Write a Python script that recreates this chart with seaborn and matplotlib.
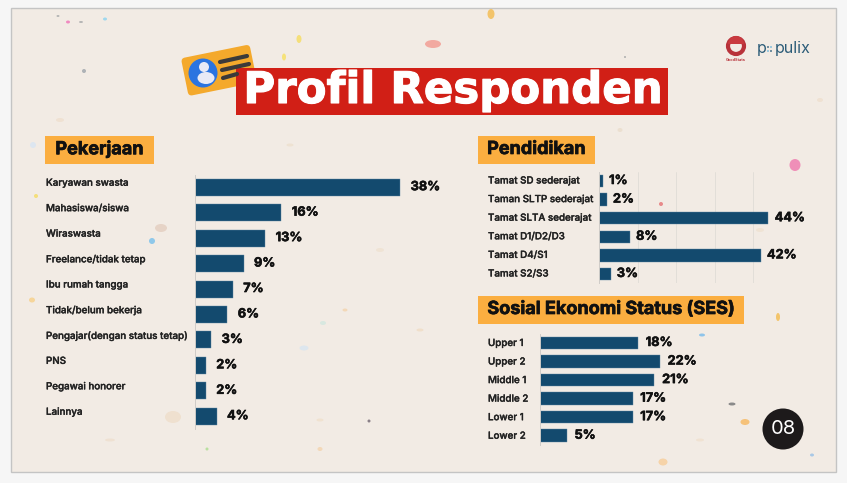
import matplotlib
matplotlib.use("Agg")
import matplotlib.pyplot as plt
from matplotlib.patches import Rectangle, Circle, FancyBboxPatch, Ellipse, Wedge
import matplotlib.patheffects as pe
import matplotlib.transforms as mtrans
import pandas as pd
import seaborn as sns

W, H = 847, 483

pekerjaan = ["Karyawan swasta", "Mahasiswa/siswa", "Wiraswasta", "Freelance/tidak tetap",
             "Ibu rumah tangga", "Tidak/belum bekerja", "Pengajar(dengan status tetap)",
             "PNS", "Pegawai honorer", "Lainnya"]
pekerjaan_pct = [38, 16, 13, 9, 7, 6, 3, 2, 2, 4]

pendidikan = ["Tamat SD sederajat", "Taman SLTP sederajat", "Tamat SLTA sederajat",
              "Tamat D1/D2/D3", "Tamat D4/S1", "Tamat S2/S3"]
pendidikan_pct = [1, 2, 44, 8, 42, 3]

ses = ["Upper 1", "Upper 2", "Middle 1", "Middle 2", "Lower 1", "Lower 2"]
ses_pct = [18, 22, 21, 17, 17, 5]

BAR = "#134a6e"
ORANGE = "#fbae40"
RED = "#d11f16"
PAPER = "#f2ebe4"
FONT = "Inter"

sns.set_theme(style="white")
plt.rcParams["font.family"] = [FONT, "DejaVu Sans"]


def heavy(width):
    return [pe.withStroke(linewidth=width, foreground="#111111")]


fig = plt.figure(figsize=(W / 100, H / 100), dpi=100, facecolor="#f6f6f6")

# whole figure in pixel coords for the decoration
bg = fig.add_axes([0, 0, 1, 1], zorder=0)
bg.set_xlim(0, W)
bg.set_ylim(H, 0)
bg.axis("off")
bg.add_patch(Rectangle((11, 8), 825, 464, fc=PAPER, ec="#c4c4c4", lw=1))

# paper flecks, placed by eye
flecks = [(299, 39, 5, 8, "#f5df7a"), (433, 44, 16, 8, "#f2a9a0"), (491, 14, 7, 10, "#f3c46b"),
          (795, 165, 11, 12, "#ef8fb8"), (702, 335, 6, 3, "#8fc4ea"), (745, 422, 9, 6, "#f6c27a"),
          (152, 241, 6, 6, "#8fc8ea"), (161, 228, 12, 8, "#e6d3c6"), (661, 204, 4, 4, "#e88a8a"),
          (68, 22, 4, 3, "#f08ac0"), (105, 19, 4, 3, "#9fd8ee"), (58, 16, 3, 2, "#b5b5b5"),
          (81, 22, 4, 2, "#b5b5b5"), (84, 71, 4, 4, "#aeb2b6"), (369, 421, 3, 3, "#8a8088"),
          (173, 417, 16, 12, "#efe0cf"), (33, 145, 6, 6, "#dde6f0"), (36, 196, 4, 4, "#f5df7a"),
          (663, 462, 9, 7, "#f6d3a8"), (778, 317, 4, 8, "#f3c46b"), (732, 404, 7, 3, "#8a8a8a"),
          (284, 57, 4, 7, "#f6e27a"), (545, 96, 3, 7, "#c9b8dc"), (625, 57, 2, 2, "#b0b0b0"),
          (32, 300, 6, 5, "#f6d59a"), (812, 455, 4, 3, "#a9c8e6"), (304, 348, 9, 5, "#dde6ee"),
          (323, 323, 6, 4, "#d8e8e0"), (345, 310, 5, 3, "#f3d8b8"), (320, 449, 5, 4, "#f3d8b8"),
          (207, 449, 3, 3, "#b9e0a0"), (320, 420, 7, 3, "#f0e2d0"), (548, 420, 6, 4, "#ebe0d2"),
          (620, 130, 5, 4, "#ebdfd0"), (290, 145, 7, 3, "#eee2d2"), (380, 250, 8, 4, "#efe3d4"),
          (420, 330, 7, 3, "#f0dfca"), (760, 230, 8, 4, "#efe3d4"), (700, 440, 8, 3, "#f0e2d2"),
          (110, 440, 10, 3, "#efe1d2"), (60, 120, 8, 4, "#efe1d2"), (820, 100, 6, 4, "#efe1d2")]
for x, y, w, h, c in flecks:
    bg.add_patch(Ellipse((x, y), w, h, fc=c, ec="none"))

# id card icon
card = FancyBboxPatch((184, 51), 70, 38.5, boxstyle="round,pad=0,rounding_size=4", fc="#f4a92c", ec="none",
                      transform=mtrans.Affine2D().rotate_deg_around(219, 70, -11.5) + bg.transData)
bg.add_patch(card)
bg.add_patch(Circle((203, 73), 14.5, fc="#2b74e0", ec="none"))
bg.add_patch(Circle((204, 67), 5, fc="#e8eaf6", ec="none"))
bg.add_patch(Ellipse((206, 78), 17, 12, fc="#e8eaf6", ec="none"))
for x0, y0, x1, y1 in [(220, 62, 247, 56), (222, 70, 249, 64), (223, 78, 237, 74)]:
    bg.plot([x0, x1], [y0, y1], color="#3b3a3a", lw=3, solid_capstyle="round")

# title
bg.add_patch(Rectangle((236, 68), 432, 47, fc=RED, ec="none"))
title = bg.text(453, 91, "Profil Responden", color="white", fontsize=31.3, fontweight="bold",
                family=["DejaVu Sans"], ha="center", va="center")
title.set_path_effects([pe.withStroke(linewidth=0.8, foreground="white")])

# logos
bg.add_patch(Circle((736, 46), 8, fc="none", ec="#b8323a", lw=3))
bg.add_patch(Wedge((736, 44), 8, 180, 360, fc="#c93a3f", ec="none"))
bg.text(736, 60, "GoodStats", fontsize=2.8, color="#b8323a", ha="center", va="center", fontweight="bold")
bg.text(757, 48, "p", fontsize=11.5, color="#2c5c78", ha="left", va="center")
for dx, dy, c in [(0, -2, "#2c5c78"), (3, -2, "#6fb6dc"), (0, 2, "#6fb6dc"), (3, 2, "#2c5c78")]:
    bg.add_patch(Circle((768 + dx, 49 + dy), 0.9, fc=c, ec="none"))
bg.text(775, 48, "pulix", fontsize=11.5, color="#2c5c78", ha="left", va="center")

# page number
bg.add_patch(Circle((783, 429), 20.5, fc="#1d1a1b", ec="none"))
bg.text(783, 429, "08", color="white", fontsize=14.5, ha="center", va="center")

# section headers
for x, y, w, h, txt in [(45, 136, 109, 28, "Pekerjaan"), (478, 136, 117, 28, "Pendidikan"),
                        (478, 296, 266, 28, "Sosial Ekonomi Status (SES)")]:
    bg.add_patch(Rectangle((x, y), w, h, fc=ORANGE, ec="none"))
    bg.text(x + w / 2, y + h / 2 - 0.5, txt, fontsize=13, fontweight="bold", color="#111111",
            ha="center", va="center", path_effects=heavy(0.5))


def bar_panel(names, values, x0, top, row, bar_h, px_per, label_x, label_dy, pad, grid=False):
    n = len(names)
    span = 60
    ax = fig.add_axes([x0 / W, 1 - (top + n * row) / H, span * px_per / W, n * row / H], zorder=2)
    ax.patch.set_alpha(0)
    df = pd.DataFrame({"name": names, "pct": values})
    sns.barplot(data=df, x="pct", y="name", orient="y", color=BAR, width=bar_h / row, saturation=1,
                edgecolor="#5d86a3", linewidth=0.3, ax=ax)
    ax.set_xlim(0, span)
    ax.set_xlabel("")
    ax.set_ylabel("")
    ax.set_xticks([])
    ax.tick_params(bottom=False, left=False, labelbottom=False, labelleft=False)
    if grid:
        ax.set_xticks([10, 20, 30, 40])
        ax.grid(axis="x", color="#e0dcd6", lw=0.6)
        ax.set_axisbelow(True)
    sns.despine(ax=ax, left=False, bottom=True)
    ax.spines["left"].set_color("#cfccc8")
    ax.spines["left"].set_linewidth(0.7)
    texts = ax.bar_label(ax.containers[0], labels=[f"{v}%" for v in values], padding=pad, fontsize=9.2,
                         fontweight="bold", color="#111111")
    for t in texts:
        t.set_path_effects(heavy(0.4))
    for i, name in enumerate(names):
        ax.annotate(name, xy=(0, i), xytext=(label_x - x0, label_dy), textcoords="offset pixels",
                    ha="left", va="center", fontsize=7.05, color="#222222", fontweight="medium",
                    annotation_clip=False, path_effects=[pe.withStroke(linewidth=0.25, foreground="#222222")])
    return ax


bar_panel(pekerjaan, pekerjaan_pct, 195, 174.5, 25.45, 17, 5.4, 46, 4.5, 7.5, )
bar_panel(pendidikan, pendidikan_pct, 599, 171.7, 18.6, 12.5, 3.85, 488, 0.5, 4.5, grid=True)
bar_panel(ses, ses_pct, 539.5, 333.7, 18.55, 12.5, 5.475, 488, 0, 5.5)

fig.savefig("out.png", dpi=100, facecolor=fig.get_facecolor())
